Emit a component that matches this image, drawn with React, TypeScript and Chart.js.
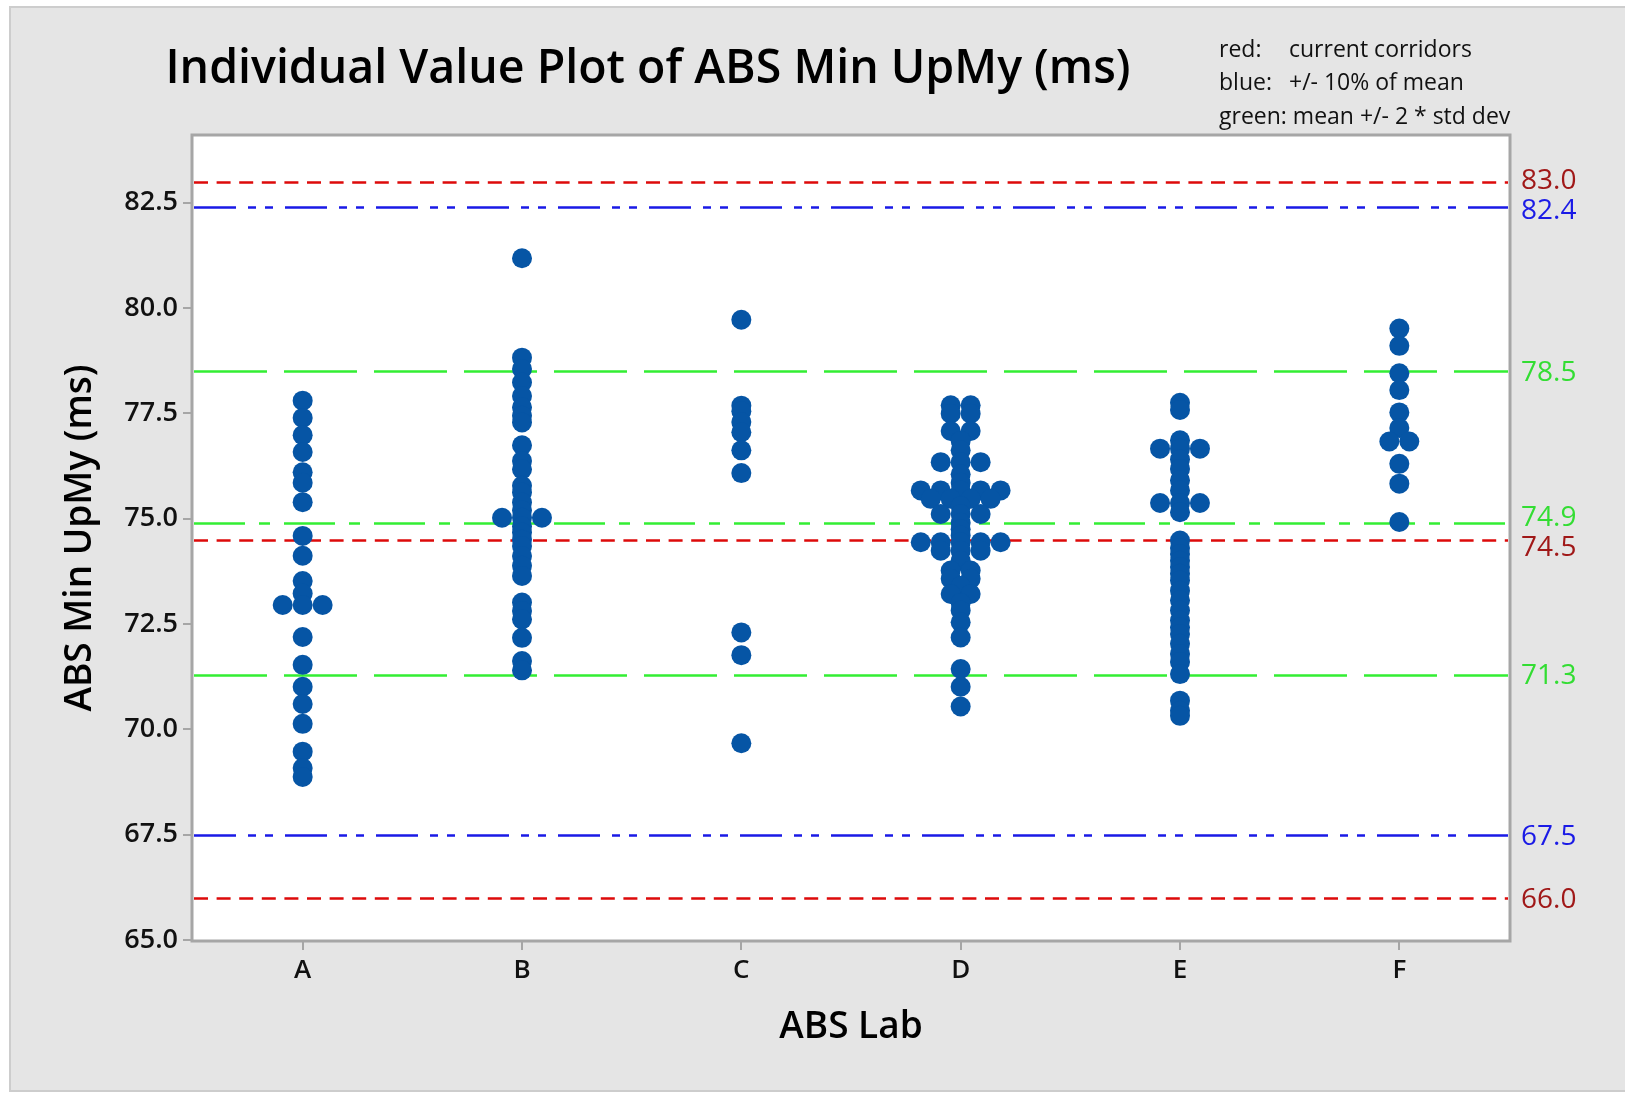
import React, { useEffect, useRef } from "react";
import { Chart, registerables } from "chart.js";

Chart.register(...registerables);

// ---------- data ----------
const labs = ["A", "B", "C", "D", "E", "F"];

const labA = [77.8, 77.39, 76.98, 76.58, 76.1, 75.85, 75.39, 74.59, 74.12, 73.52, 73.22, 72.95, 72.95, 72.95, 72.19, 71.53, 71.01, 70.6, 70.13, 69.47, 69.08, 68.87];
const labB = [81.18, 78.82, 78.55, 78.23, 77.91, 77.64, 77.44, 77.28, 76.74, 76.37, 76.17, 75.78, 75.62, 75.38, 75.2, 75.02, 75.02, 75.02, 74.82, 74.67, 74.5, 74.35, 74.11, 73.88, 73.64, 73.01, 72.81, 72.61, 72.17, 71.62, 71.4];
const labC = [79.72, 77.68, 77.55, 77.29, 77.05, 76.62, 76.08, 72.3, 71.76, 69.67];
const labD = [77.69, 77.69, 77.49, 77.49, 77.08, 77.08, 76.85, 76.62, 76.34, 76.34, 76.34, 76.05, 75.85, 75.67, 75.67, 75.67, 75.67, 75.67, 75.47, 75.47, 75.47, 75.47, 75.3, 75.11, 75.11, 75.11, 74.9, 74.75, 74.6, 74.44, 74.44, 74.44, 74.44, 74.44, 74.24, 74.24, 74.24, 74.0, 73.77, 73.77, 73.57, 73.57, 73.4, 73.21, 73.21, 73.0, 72.82, 72.54, 72.18, 71.43, 71.01, 70.54];
const labE = [77.75, 77.58, 76.86, 76.66, 76.66, 76.66, 76.4, 76.18, 75.91, 75.67, 75.37, 75.37, 75.37, 75.15, 74.48, 74.3, 74.16, 74.0, 73.85, 73.69, 73.53, 73.29, 73.06, 72.82, 72.58, 72.42, 72.26, 72.03, 71.79, 71.6, 71.31, 70.68, 70.44, 70.32];
const labF = [79.51, 79.1, 78.45, 78.05, 77.52, 77.15, 76.83, 76.83, 76.3, 75.83, 74.92];

const labValues = [labA, labB, labC, labD, labE, labF];

const redLimits = [83.0, 74.5, 66.0];
const blueLimits = [82.4, 67.5];
const greenLimits = [78.5, 71.3];
const greenMean = [74.9];

const yTicks = [65, 67.5, 70, 72.5, 75, 77.5, 80, 82.5];
const yMin = 65;
const yMax = 84.08;

const titleText = "Individual Value Plot of ABS Min UpMy (ms)";
const xTitle = "ABS Lab";
const yTitle = "ABS Min UpMy (ms)";
const legendLines: [string, string][] = [
  ["red:", "current corridors"],
  ["blue:", "+/- 10% of mean"],
  ["green:", "mean +/- 2 * std dev"],
];

// ---------- styles ----------
const FONT = '"Open Sans", "Noto Sans", sans-serif';
const POINT_COLOR = "#0655a5";
const RED_LINE = "#dd0a0a";
const BLUE_LINE = "#1a1ae6";
const GREEN_LINE = "#33ee33";
const RED_LABEL = "#a01818";
const BLUE_LABEL = "#1a1ae6";
const GREEN_LABEL = "#33dd33";
const AXIS_GRAY = "#a6a6a6";
const JITTER = 0.091; // horizontal spread (category units) for coincident values

function buildPoints() {
  const pts: { x: number; y: number }[] = [];
  labValues.forEach((vals, i) => {
    const counts = new Map<number, number>();
    vals.forEach((v) => counts.set(v, (counts.get(v) || 0) + 1));
    const seen = new Map<number, number>();
    vals.forEach((v) => {
      const n = counts.get(v) || 1;
      const k = seen.get(v) || 0;
      seen.set(v, k + 1);
      pts.push({ x: i + (k - (n - 1) / 2) * JITTER, y: v });
    });
  });
  return pts;
}

type RefLine = { v: number; color: string; labelColor: string; dash: number[]; width: number };

const refLines: RefLine[] = [
  ...greenLimits.map((v) => ({ v, color: GREEN_LINE, labelColor: GREEN_LABEL, dash: [73, 17], width: 2.5 })),
  ...greenMean.map((v) => ({ v, color: GREEN_LINE, labelColor: GREEN_LABEL, dash: [51, 14, 11, 14], width: 2.5 })),
  ...blueLimits.map((v) => ({ v, color: BLUE_LINE, labelColor: BLUE_LABEL, dash: [42, 12, 8, 9, 8, 12], width: 2.5 })),
  ...redLimits.map((v) => ({ v, color: RED_LINE, labelColor: RED_LABEL, dash: [14, 8.6], width: 2.5 })),
];

const decorPlugin = {
  id: "decor",
  beforeDraw(chart: any) {
    const { ctx, chartArea: ca, width, height } = chart;
    ctx.save();
    ctx.fillStyle = "#ffffff";
    ctx.fillRect(0, 0, width, height);
    ctx.fillStyle = "#e5e5e5";
    ctx.fillRect(10, 7, width - 10, height - 10);
    ctx.strokeStyle = "#cdcdcd";
    ctx.lineWidth = 2;
    ctx.strokeRect(10, 7, width - 8, height - 10);
    ctx.fillStyle = "#ffffff";
    ctx.fillRect(ca.left, ca.top, ca.right - ca.left, ca.bottom - ca.top);
    ctx.restore();
  },
  beforeDatasetsDraw(chart: any) {
    const { ctx, chartArea: ca, scales } = chart;
    const y = scales.y;
    ctx.save();
    refLines.forEach((r) => {
      const py = Math.round(y.getPixelForValue(r.v)) + 0.5;
      ctx.strokeStyle = r.color;
      ctx.lineWidth = r.width;
      ctx.setLineDash(r.dash);
      ctx.lineDashOffset = 0;
      ctx.beginPath();
      ctx.moveTo(ca.left + 1, py);
      ctx.lineTo(ca.right - 1, py);
      ctx.stroke();
    });
    ctx.restore();
  },
  afterDraw(chart: any) {
    const { ctx, chartArea: ca, scales } = chart;
    const y = scales.y;
    ctx.save();
    // plot border
    ctx.strokeStyle = AXIS_GRAY;
    ctx.lineWidth = 3;
    ctx.setLineDash([]);
    ctx.strokeRect(ca.left - 1, ca.top - 1, ca.right - ca.left + 2, ca.bottom - ca.top + 2);

    // title
    ctx.fillStyle = "#000000";
    ctx.font = `600 46.5px ${FONT}`;
    ctx.textAlign = "center";
    ctx.textBaseline = "middle";
    ctx.fillText(titleText, 648, 70);

    // legend text (top right)
    ctx.font = `400 23px ${FONT}`;
    ctx.textAlign = "left";
    ctx.fillStyle = "#111111";
    legendLines.forEach(([key, txt], i) => {
      const ly = 50 + i * 33.5;
      ctx.fillText(key, 1219, ly);
      const kw = ctx.measureText(key).width;
      ctx.fillText(txt, Math.max(1289, 1219 + kw + 6), ly);
    });

    // axis titles
    ctx.font = `600 37px ${FONT}`;
    ctx.textAlign = "center";
    ctx.fillStyle = "#000000";
    ctx.fillText(xTitle, (ca.left + ca.right) / 2, 1027);
    ctx.save();
    ctx.translate(80, (ca.top + ca.bottom) / 2);
    ctx.rotate(-Math.PI / 2);
    ctx.fillText(yTitle, 0, 0);
    ctx.restore();

    // right labels with collision avoidance
    const labels = refLines
      .map((r) => ({ text: r.v.toFixed(1), color: r.labelColor, py: y.getPixelForValue(r.v) }))
      .sort((a, b) => a.py - b.py);
    const minGap = 30;
    for (let iter = 0; iter < 10; iter++) {
      for (let i = 1; i < labels.length; i++) {
        const gap = labels[i].py - labels[i - 1].py;
        if (gap < minGap) {
          const d = (minGap - gap) / 2;
          labels[i - 1].py -= d;
          labels[i].py += d;
        }
      }
    }
    ctx.font = `500 28px ${FONT}`;
    ctx.textAlign = "left";
    labels.forEach((l) => {
      ctx.fillStyle = l.color;
      ctx.fillText(l.text, ca.right + 12, l.py + 2);
    });
    ctx.restore();
  },
};

export default function App() {
  const ref = useRef<HTMLCanvasElement | null>(null);

  useEffect(() => {
    if (!ref.current) return;
    const chart = new Chart(ref.current, {
      type: "scatter",
      data: {
        datasets: [
          {
            data: buildPoints(),
            backgroundColor: POINT_COLOR,
            borderColor: POINT_COLOR,
            borderWidth: 0,
            pointRadius: 10,
            pointHoverRadius: 10,
          },
        ],
      },
      options: {
        animation: false,
        responsive: false,
        devicePixelRatio: 1,
        layout: { padding: { left: 0, top: 136, right: 116, bottom: 0 } },
        plugins: {
          legend: { display: false },
          tooltip: { enabled: false },
          title: { display: false },
        },
        scales: {
          x: {
            type: "linear",
            min: -0.5,
            max: 5.5,
            afterBuildTicks: (s: any) => {
              s.ticks = labs.map((_, i) => ({ value: i }));
            },
            afterFit: (s: any) => {
              s.height = 154;
            },
            grid: { display: true, drawOnChartArea: false, drawTicks: true, tickLength: 10, color: AXIS_GRAY, lineWidth: 2 },
            border: { display: false },
            ticks: {
              autoSkip: false,
              maxRotation: 0,
              padding: 5,
              color: "#111111",
              font: { family: FONT, size: 26, weight: "600" },
              callback: (v: any) => labs[Math.round(Number(v))] ?? "",
            },
          },
          y: {
            type: "linear",
            min: yMin,
            max: yMax,
            afterBuildTicks: (s: any) => {
              s.ticks = yTicks.map((v) => ({ value: v }));
            },
            afterFit: (s: any) => {
              s.width = 193;
            },
            grid: { display: true, drawOnChartArea: false, drawTicks: true, tickLength: 10, color: AXIS_GRAY, lineWidth: 2 },
            border: { display: false },
            ticks: {
              padding: 5,
              color: "#111111",
              font: { family: FONT, size: 27, weight: "600" },
              callback: (v: any) => Number(v).toFixed(1),
            },
          },
        },
      },
      plugins: [decorPlugin],
    } as any);
    return () => chart.destroy();
  }, []);

  return (
    <div style={{ position: "fixed", left: 0, top: 0, width: 1625, height: 1094, overflow: "hidden" }}>
      <canvas ref={ref} width={1625} height={1094} style={{ display: "block", width: 1625, height: 1094 }} />
    </div>
  );
}
